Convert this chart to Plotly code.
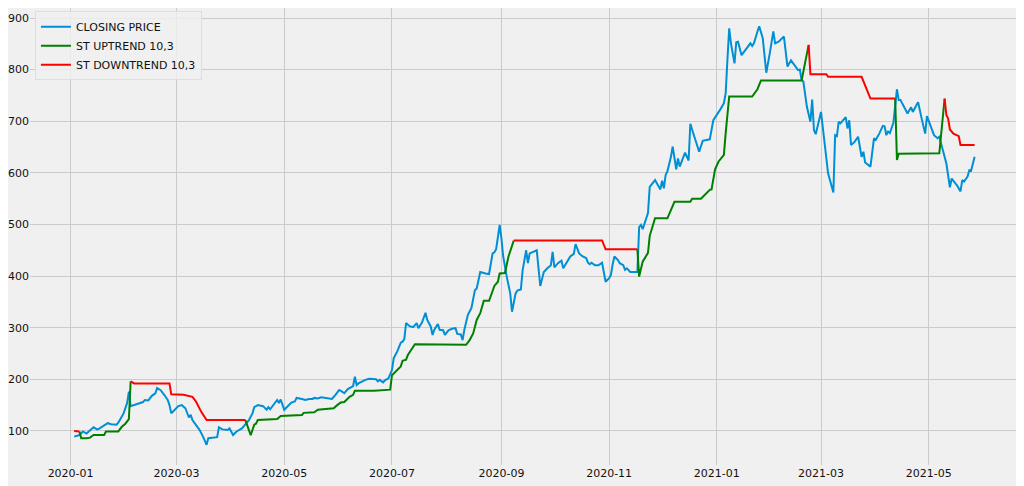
import plotly.graph_objects as go

# closing price
close_dates = [
    "2020-01-03", "2020-01-06", "2020-01-08", "2020-01-10", "2020-01-14", "2020-01-16", "2020-01-17",
    "2020-01-19", "2020-01-22", "2020-01-24", "2020-01-27", "2020-01-28", "2020-01-30", "2020-01-31",
    "2020-02-02", "2020-02-03", "2020-02-04", "2020-02-07", "2020-02-09", "2020-02-11", "2020-02-12",
    "2020-02-14", "2020-02-16", "2020-02-18", "2020-02-19", "2020-02-21", "2020-02-23", "2020-02-25",
    "2020-02-26", "2020-02-27", "2020-02-29", "2020-03-02", "2020-03-04", "2020-03-06", "2020-03-08",
    "2020-03-09", "2020-03-10", "2020-03-12", "2020-03-14", "2020-03-16", "2020-03-18", "2020-03-19",
    "2020-03-22", "2020-03-24", "2020-03-25", "2020-03-27", "2020-03-30", "2020-03-31", "2020-04-02",
    "2020-04-04", "2020-04-07", "2020-04-09", "2020-04-11", "2020-04-13", "2020-04-14", "2020-04-16",
    "2020-04-19", "2020-04-21", "2020-04-22", "2020-04-23", "2020-04-25", "2020-04-27", "2020-04-28",
    "2020-04-29", "2020-05-01", "2020-05-03", "2020-05-05", "2020-05-07", "2020-05-08", "2020-05-11",
    "2020-05-13", "2020-05-15", "2020-05-17", "2020-05-18", "2020-05-20", "2020-05-22", "2020-05-25",
    "2020-05-27", "2020-05-28", "2020-05-30", "2020-06-01", "2020-06-02", "2020-06-04", "2020-06-06",
    "2020-06-08", "2020-06-09", "2020-06-10", "2020-06-11", "2020-06-12", "2020-06-14", "2020-06-16",
    "2020-06-18", "2020-06-20", "2020-06-22", "2020-06-23", "2020-06-24", "2020-06-26", "2020-06-27",
    "2020-06-29", "2020-07-01", "2020-07-02", "2020-07-04", "2020-07-06", "2020-07-07", "2020-07-08",
    "2020-07-09", "2020-07-11", "2020-07-13", "2020-07-15", "2020-07-16", "2020-07-18", "2020-07-20",
    "2020-07-21", "2020-07-23", "2020-07-24", "2020-07-25", "2020-07-27", "2020-07-28", "2020-07-30",
    "2020-07-31", "2020-08-02", "2020-08-04", "2020-08-06", "2020-08-07", "2020-08-09", "2020-08-10",
    "2020-08-11", "2020-08-12", "2020-08-13", "2020-08-15", "2020-08-17", "2020-08-18", "2020-08-20",
    "2020-08-23", "2020-08-25", "2020-08-27", "2020-08-28", "2020-08-29", "2020-08-30", "2020-08-31",
    "2020-09-01", "2020-09-02", "2020-09-04", "2020-09-06", "2020-09-07", "2020-09-09", "2020-09-10",
    "2020-09-12", "2020-09-13", "2020-09-15", "2020-09-16", "2020-09-17", "2020-09-19", "2020-09-21",
    "2020-09-23", "2020-09-25", "2020-09-27", "2020-09-29", "2020-09-30", "2020-10-01", "2020-10-03",
    "2020-10-05", "2020-10-06", "2020-10-08", "2020-10-10", "2020-10-12", "2020-10-13", "2020-10-15",
    "2020-10-17", "2020-10-19", "2020-10-20", "2020-10-21", "2020-10-22", "2020-10-24", "2020-10-26",
    "2020-10-28", "2020-10-29", "2020-10-30", "2020-11-01", "2020-11-02", "2020-11-03", "2020-11-04",
    "2020-11-06", "2020-11-07", "2020-11-09", "2020-11-10", "2020-11-11", "2020-11-13", "2020-11-17",
    "2020-11-18", "2020-11-19", "2020-11-20", "2020-11-23", "2020-11-24", "2020-11-27", "2020-11-30",
    "2020-12-01", "2020-12-02", "2020-12-03", "2020-12-04", "2020-12-06", "2020-12-07", "2020-12-09",
    "2020-12-10", "2020-12-11", "2020-12-14", "2020-12-16", "2020-12-17", "2020-12-19", "2020-12-22",
    "2020-12-24", "2020-12-28", "2020-12-30", "2021-01-01", "2021-01-03", "2021-01-05", "2021-01-06",
    "2021-01-07", "2021-01-08", "2021-01-09", "2021-01-11", "2021-01-12", "2021-01-13", "2021-01-15",
    "2021-01-17", "2021-01-20", "2021-01-21", "2021-01-22", "2021-01-24", "2021-01-25", "2021-01-27",
    "2021-01-29", "2021-01-31", "2021-02-02", "2021-02-03", "2021-02-05", "2021-02-08", "2021-02-10",
    "2021-02-12", "2021-02-16", "2021-02-17", "2021-02-18", "2021-02-19", "2021-02-21", "2021-02-23",
    "2021-02-24", "2021-02-25", "2021-02-26", "2021-03-01", "2021-03-03", "2021-03-05", "2021-03-08",
    "2021-03-09", "2021-03-10", "2021-03-11", "2021-03-12", "2021-03-15", "2021-03-16", "2021-03-17",
    "2021-03-18", "2021-03-20", "2021-03-22", "2021-03-24", "2021-03-25", "2021-03-26", "2021-03-29",
    "2021-03-31", "2021-04-01", "2021-04-03", "2021-04-05", "2021-04-06", "2021-04-07", "2021-04-08",
    "2021-04-09", "2021-04-11", "2021-04-13", "2021-04-14", "2021-04-15", "2021-04-16", "2021-04-19",
    "2021-04-21", "2021-04-22", "2021-04-24", "2021-04-25", "2021-04-27", "2021-04-29", "2021-04-30",
    "2021-05-01", "2021-05-03", "2021-05-04", "2021-05-06", "2021-05-07", "2021-05-08", "2021-05-11",
    "2021-05-13", "2021-05-14", "2021-05-16", "2021-05-17", "2021-05-19", "2021-05-20", "2021-05-21",
    "2021-05-23", "2021-05-24", "2021-05-25", "2021-05-27",
]
close_vals = [
    89, 92, 99, 95, 107, 103, 104,
    108, 115, 113, 112, 116, 128, 134,
    154, 176, 148, 152, 154, 156, 160,
    159, 168, 173, 183, 179, 170, 160,
    150, 134, 141, 148, 150, 144, 126,
    131, 121, 112, 102, 89, 73, 86,
    87, 88, 107, 103, 102, 105, 92,
    99, 105, 114, 121, 134, 146, 150,
    148, 141, 146, 142, 150, 160, 154,
    161, 141, 148, 155, 157, 164, 162,
    160, 162, 162, 164, 163, 165, 164,
    163, 162, 170, 179, 178, 173, 181,
    185, 187, 205, 189, 192, 196, 199,
    201, 200, 200, 196, 199, 194, 198,
    202, 218, 241, 254, 271, 273, 278,
    309, 303, 301, 309, 299, 310, 329,
    315, 302, 286, 296, 307, 296, 295,
    286, 295, 298, 299, 288, 287, 276,
    296, 312, 325, 338, 373, 376, 408,
    405, 404, 444, 446, 452, 473, 499,
    473, 438, 399, 366, 331, 366, 372,
    374, 411, 450, 425, 444, 447, 450,
    381, 408, 415, 421, 447, 417, 425,
    430, 415, 428, 438, 443, 462, 444,
    438, 435, 426, 423, 426, 421, 421,
    426, 408, 389, 396, 402, 423, 438,
    431, 425, 421, 412, 415, 408, 408,
    495, 499, 491, 522, 573, 586, 568,
    585, 570, 596, 603, 631, 651, 607,
    628, 612, 639, 624, 695, 673, 641,
    662, 665, 702, 712, 723, 735, 754,
    819, 880, 851, 812, 853, 854, 828,
    837, 851, 846, 851, 874, 884, 861,
    794, 832, 874, 851, 854, 864, 806,
    818, 799, 800, 780, 777, 728, 699,
    742, 683, 675, 718, 664, 599, 562,
    673, 671, 699, 696, 708, 686, 702,
    654, 660, 670, 631, 641, 620, 612,
    667, 664, 676, 691, 690, 673, 680,
    677, 697, 762, 741, 741, 735, 715,
    727, 718, 731, 737, 705, 676, 710,
    701, 684, 673, 667, 670, 657, 618,
    572, 589, 580, 576, 564, 586, 583,
    593, 605, 604, 631,
]

# supertrend 10,3 - None splits the segments
up_dates = [
    "2020-01-06", "2020-01-07", "2020-01-10", "2020-01-12", "2020-01-14", "2020-01-20", "2020-01-21",
    "2020-01-28", "2020-01-30", "2020-02-01", "2020-02-03", "2020-02-04", "2020-02-05",
    "2020-04-09", "2020-04-10", "2020-04-12", "2020-04-14", "2020-04-15", "2020-04-16", "2020-04-27",
    "2020-04-29", "2020-05-11", "2020-05-12", "2020-05-18", "2020-05-20", "2020-05-29", "2020-05-31",
    "2020-06-02", "2020-06-04", "2020-06-07", "2020-06-09", "2020-06-10", "2020-06-21", "2020-06-28",
    "2020-06-30", "2020-07-01", "2020-07-04", "2020-07-06", "2020-07-07", "2020-07-09", "2020-07-10",
    "2020-07-12", "2020-07-14", "2020-08-12", "2020-08-14", "2020-08-16", "2020-08-17", "2020-08-18",
    "2020-08-20", "2020-08-22", "2020-08-25", "2020-08-27", "2020-08-28", "2020-08-30", "2020-08-31",
    "2020-09-03", "2020-09-05", "2020-09-08", "2020-09-09",
    "2020-11-17", "2020-11-18", "2020-11-20", "2020-11-23", "2020-11-24", "2020-11-27", "2020-12-04",
    "2020-12-06", "2020-12-08", "2020-12-17", "2020-12-18", "2020-12-23", "2020-12-28", "2020-12-29",
    "2020-12-31", "2021-01-02", "2021-01-05", "2021-01-06", "2021-01-08", "2021-01-21", "2021-01-24",
    "2021-01-26", "2021-02-18", "2021-02-22", "2021-02-23",
    "2021-04-12", "2021-04-13", "2021-04-14", "2021-05-07", "2021-05-10",
]
up_vals = [
    99, 86, 86, 87, 92, 92, 99,
    99, 108, 114, 123, 196, None,
    121, 110, 92, 112, 114, 121, 123,
    129, 131, 135, 136, 141, 144, 150,
    155, 156, 166, 170, 178, 178, 179,
    180, 208, 218, 225, 236, 238, 247,
    258, 268, 267, 276, 289, 305, 315,
    328, 352, 352, 373, 381, 389, 405,
    406, 438, 469, None,
    452, 399, 428, 445, 478, 512, 512,
    528, 544, 544, 550, 550, 567, 568,
    607, 622, 635, 677, 748, 748, 762,
    779, 779, 848, None,
    744, 625, 637, 638, 744,
]

down_dates = [
    "2020-01-03", "2020-01-06", "2020-01-07",
    "2020-02-04", "2020-02-06", "2020-02-26", "2020-02-27", "2020-03-05", "2020-03-07", "2020-03-10",
    "2020-03-12", "2020-03-13", "2020-03-15", "2020-03-18", "2020-04-09", "2020-04-10",
    "2020-09-08", "2020-10-28", "2020-10-30", "2020-11-17", "2020-11-18",
    "2021-02-22", "2021-02-23", "2021-03-04", "2021-03-05", "2021-03-24", "2021-03-26", "2021-03-29",
    "2021-04-12", "2021-04-13",
    "2021-05-10", "2021-05-11", "2021-05-12", "2021-05-13", "2021-05-15", "2021-05-18", "2021-05-19",
    "2021-05-27",
]
down_vals = [
    100, 99, None,
    196, 192, 192, 171, 170, 168, 166,
    157, 150, 137, 121, 121, None,
    469, 469, 452, 452, None,
    848, 791, 791, 786, 786, 770, 744,
    744, None,
    744, 712, 705, 684, 676, 671, 654,
    654,
]

y_ticks = [100, 200, 300, 400, 500, 600, 700, 800, 900]

data = [
    dict(type='scatter', x=close_dates, y=close_vals, mode='lines',
         name='CLOSING PRICE', line=dict(color='#008fd5', width=2)),
    dict(type='scatter', x=up_dates, y=up_vals, mode='lines', connectgaps=False,
         name='ST UPTREND 10,3', line=dict(color='#008000', width=2)),
    dict(type='scatter', x=down_dates, y=down_vals, mode='lines', connectgaps=False,
         name='ST DOWNTREND 10,3', line=dict(color='#ff0000', width=2)),
]

# page body has an 8px margin, so margins are shifted to compensate
layout = dict(
    width=1024, height=486,
    paper_bgcolor='#f0f0f0', plot_bgcolor='#f0f0f0',
    margin=dict(l=22, r=15, t=0, b=29, autoexpand=False),
    font=dict(family='DejaVu Sans', size=11, color='#111111'),
    showlegend=True,
    legend=dict(x=0.005, y=0.993, xanchor='left', yanchor='top',
                bgcolor='rgba(240,240,240,0.8)', bordercolor='#dedede', borderwidth=1,
                font=dict(size=11), tracegroupgap=0, itemwidth=30),
    xaxis=dict(type='date', range=['2019-12-09', '2021-06-20'],
               tick0='2020-01-01', dtick='M2', tickformat='%Y-%m',
               showgrid=True, gridcolor='#cbcbcb', gridwidth=1,
               zeroline=False, showline=False, ticks=''),
    yaxis=dict(range=[34, 919.4], tickvals=y_ticks,
               showgrid=True, gridcolor='#cbcbcb', gridwidth=1,
               zeroline=False, showline=False, ticks=''),
)

fig = go.Figure(data=data, layout=layout)
fig.write_html("out.html")
